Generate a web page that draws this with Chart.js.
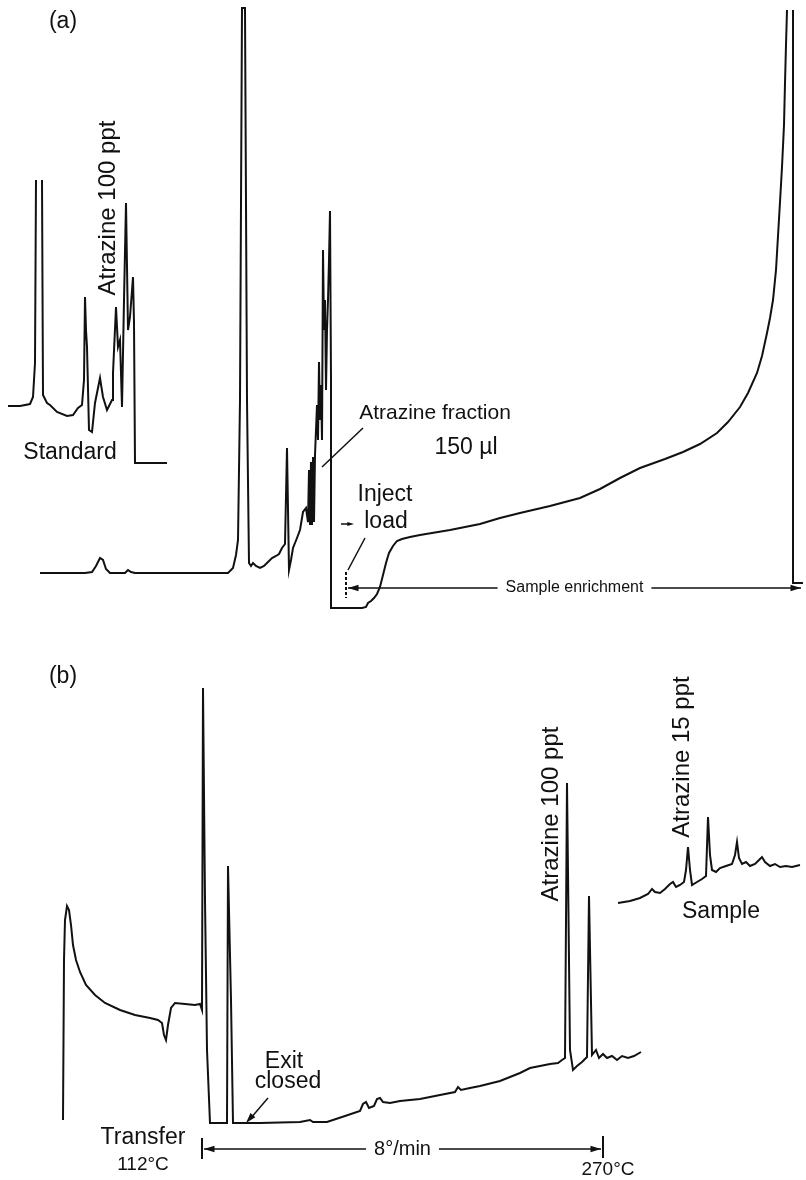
<!DOCTYPE html>
<html>
<head>
<meta charset="utf-8">
<script src="https://cdn.jsdelivr.net/npm/chart.js@4.4.1/dist/chart.umd.min.js"></script>
<style>
  html, body { margin: 0; padding: 0; background: #fff; }
  canvas { display: block; }
</style>
</head>
<body>
<canvas id="chart" width="806" height="1180"></canvas>
<script>
// traces: [time, detector] in figure units (y grows downward)
const standardA = [
  [8, 406], [20, 406], [30, 404], [33, 397], [35, 363], [36, 180], [39, null],
  [42, 180], [43, 395], [47, 403], [50, 405], [57, 412], [67, 416], [73, 415],
  [78, 408], [82, 405], [84, 380], [85, 297], [86, 330], [87, 347], [89, 430],
  [92, 432], [95, 403], [100, 378], [103, 397], [107, 410], [112, 400],
  [113, 373], [116, 307], [118, 347], [120, 340], [122, 407], [124, 300],
  [126, 203], [128, 330], [130, 317], [133, 277], [134, 323], [135, 463], [167, 463]
];

const enrichmentA = [
  [40, 573], [85, 573], [92, 572], [96, 566], [100, 558], [103, 560], [106, 569],
  [110, 573], [125, 573], [128, 570], [131, 572], [135, 573], [228, 573],
  [233, 568], [236, 555], [238, 540], [240, 400], [242, 8], [245, 8], [247, 400],
  [249, 563], [251, 566], [253, 563], [256, 566], [260, 568], [264, 566],
  [268, 562], [272, 558], [276, 556], [279, 554], [282, 548], [285, 544],
  [287, 448], [289, 570], [291, 560], [293, 548], [297, 538], [300, 530],
  [303, 512], [306, 508], [308, 522], [309, 470], [310, 525], [311, 462],
  [312, 525], [313, 457], [314, 522], [315, 455], [316, 430], [317, 405],
  [318, 440], [319, 362], [320, 420], [321, 385], [322, 440], [323, 250],
  [324, 330], [325, 300], [326, 390], [327, 330], [328, 300], [329, 260],
  [330, 211], [331, 380], [331, 608], [362, 608], [366, 607], [368, 603],
  [371, 601], [374, 598], [377, 594], [380, 587], [383, 575], [386, 563],
  [389, 553], [393, 546], [397, 541], [402, 539], [410, 537], [420, 535],
  [450, 530], [480, 524], [500, 518], [520, 513], [550, 506], [580, 498],
  [600, 489], [620, 478], [640, 468], [665, 459], [683, 452], [700, 444],
  [717, 433], [728, 422], [740, 407], [748, 393], [757, 373], [762, 356],
  [767, 333], [770, 318], [773, 300], [776, 270], [778, 236], [780, 202],
  [782, 167], [784, 125], [785, 83], [786, 45], [787, 10], [790, null],
  [793, 10], [793, 300], [793, 583], [803, 583]
];

const transferB = [
  [63, 1120], [64, 960], [65, 920], [67, 906], [69, 910], [71, 925], [73, 945],
  [76, 960], [80, 972], [86, 985], [95, 995], [105, 1003], [120, 1010],
  [135, 1015], [150, 1018], [158, 1020], [162, 1023], [164, 1035], [166, 1040],
  [168, 1025], [171, 1008], [175, 1003], [185, 1004], [195, 1005], [200, 1004],
  [202, 1010], [203, 688], [205, 900], [207, 1050], [210, 1123], [227, 1123],
  [228, 866], [231, 1000], [233, 1123], [260, 1123], [300, 1122], [310, 1120],
  [313, 1122], [327, 1122], [345, 1116], [360, 1111], [363, 1104], [366, 1102],
  [369, 1108], [374, 1106], [377, 1099], [380, 1098], [383, 1102], [390, 1103],
  [400, 1101], [420, 1099], [440, 1095], [455, 1092], [458, 1087], [461, 1090],
  [470, 1088], [480, 1086], [492, 1083], [500, 1081], [510, 1077], [520, 1073],
  [530, 1068], [540, 1066], [550, 1064], [558, 1063], [562, 1060], [565, 1058],
  [567, 783], [570, 1050], [573, 1070], [577, 1066], [582, 1062], [587, 1057],
  [589, 896], [592, 1055], [596, 1050], [599, 1058], [603, 1054], [607, 1058],
  [612, 1056], [617, 1060], [622, 1056], [628, 1058], [634, 1056], [641, 1052]
];

const sampleB = [
  [618, 903], [630, 901], [640, 898], [648, 894], [652, 889], [655, 892],
  [660, 893], [665, 889], [670, 884], [673, 882], [676, 887], [680, 885],
  [684, 882], [686, 870], [688, 847], [690, 870], [692, 885], [697, 882],
  [702, 879], [706, 876], [708, 817], [710, 855], [712, 870], [716, 872],
  [720, 868], [726, 866], [732, 864], [735, 855], [737, 842], [739, 858],
  [742, 864], [746, 862], [750, 866], [755, 864], [759, 860], [762, 857],
  [765, 862], [770, 866], [775, 864], [780, 867], [786, 866], [792, 867], [800, 865]
];

const FONT = '"Liberation Sans", Arial, Helvetica, sans-serif';

// text labels: [text, x, y, size, rotated]
const labels = [
  ['(a)', 63, 22, 23, false],
  ['Atrazine 100 ppt', 108, 208, 24, true],
  ['Standard', 70, 453, 23, false],
  ['Atrazine fraction', 435, 413, 21, false],
  ['150 \u00b5l', 466, 448, 23, false],
  ['Inject', 385, 495, 23, false],
  ['load', 386, 522, 23, false],
  ['(b)', 63, 677, 23, false],
  ['Atrazine 100 ppt', 551, 814, 24, true],
  ['Atrazine 15 ppt', 682, 757, 24, true],
  ['Sample', 721, 912, 23, false],
  ['Transfer', 143, 1138, 23, false],
  ['Exit', 284, 1062, 23, false],
  ['closed', 288, 1082, 23, false],
  ['112\u00b0C', 143, 1165, 19, false],
  ['270\u00b0C', 608, 1170, 19, false]
];

// span arrows: [left x, right x, y, text, size]
const spans = [
  [346, 803, 588, 'Sample enrichment', 16],
  [202, 603, 1149, '8\u00b0/min', 20]
];

function toDataset(points, width) {
  return {
    data: points.map(p => ({ x: p[0], y: p[1] })),
    showLine: true,
    spanGaps: false,
    borderColor: '#111',
    borderWidth: width,
    pointRadius: 0,
    tension: 0
  };
}

const annotate = {
  id: 'annotate',
  afterDatasetsDraw(chart) {
    const { ctx } = chart;
    const sx = chart.scales.x, sy = chart.scales.y;
    const px = v => sx.getPixelForValue(v);
    const py = v => sy.getPixelForValue(v);
    ctx.save();
    ctx.fillStyle = '#111';
    ctx.strokeStyle = '#111';
    ctx.textAlign = 'center';
    ctx.textBaseline = 'middle';

    const line = (x1, y1, x2, y2, w) => {
      ctx.lineWidth = w || 1.5;
      ctx.beginPath();
      ctx.moveTo(px(x1), py(y1));
      ctx.lineTo(px(x2), py(y2));
      ctx.stroke();
    };
    const head = (x, y, ang, len) => {
      const X = px(x), Y = py(y), L = len || 10;
      ctx.beginPath();
      ctx.moveTo(X, Y);
      ctx.lineTo(X - L * Math.cos(ang - 0.3), Y - L * Math.sin(ang - 0.3));
      ctx.lineTo(X - L * Math.cos(ang + 0.3), Y - L * Math.sin(ang + 0.3));
      ctx.closePath();
      ctx.fill();
    };

    labels.forEach(([t, x, y, s, rot]) => {
      ctx.font = s + 'px ' + FONT;
      if (rot) {
        ctx.save();
        ctx.translate(px(x), py(y));
        ctx.rotate(-Math.PI / 2);
        ctx.fillText(t, 0, 0);
        ctx.restore();
      } else {
        ctx.fillText(t, px(x), py(y));
      }
    });

    spans.forEach(([x1, x2, y, t, s]) => {
      ctx.font = s + 'px ' + FONT;
      const mid = (x1 + x2) / 2;
      const half = ctx.measureText(t).width / 2 + 8;
      ctx.fillText(t, px(mid), py(y));
      line(x1 + 2, y, mid - half, y, 1.5);
      line(mid + half, y, x2 - 2, y, 1.5);
      head(x1 + 2, y, Math.PI, 11);
      head(x2 - 2, y, 0, 11);
    });

    // end ticks of span arrows
    ctx.setLineDash([3, 2]);
    line(346, 572, 346, 598, 2);
    ctx.setLineDash([]);
    line(202, 1138, 202, 1159, 2);
    line(603, 1136, 603, 1158, 2);

    // leaders
    line(322, 467, 363, 428, 1.5);
    line(348, 570, 365, 538, 1.5);
    line(341, 524, 350, 524, 1.5);
    head(354, 524, 0, 7);
    line(268, 1098, 250, 1119, 1.5);
    head(246, 1123, Math.atan2(24, -21), 11);
    ctx.restore();
  }
};

new Chart(document.getElementById('chart'), {
  type: 'scatter',
  data: {
    datasets: [
      toDataset(standardA, 2),
      toDataset(enrichmentA, 2),
      toDataset(transferB, 2),
      toDataset(sampleB, 2)
    ]
  },
  options: {
    responsive: false,
    animation: false,
    devicePixelRatio: 1,
    layout: { padding: 0 },
    plugins: { legend: { display: false }, tooltip: { enabled: false } },
    scales: {
      x: { type: 'linear', min: 0, max: 806, display: false },
      y: { type: 'linear', min: 0, max: 1180, reverse: true, display: false }
    }
  },
  plugins: [annotate]
});
</script>
</body>
</html>
